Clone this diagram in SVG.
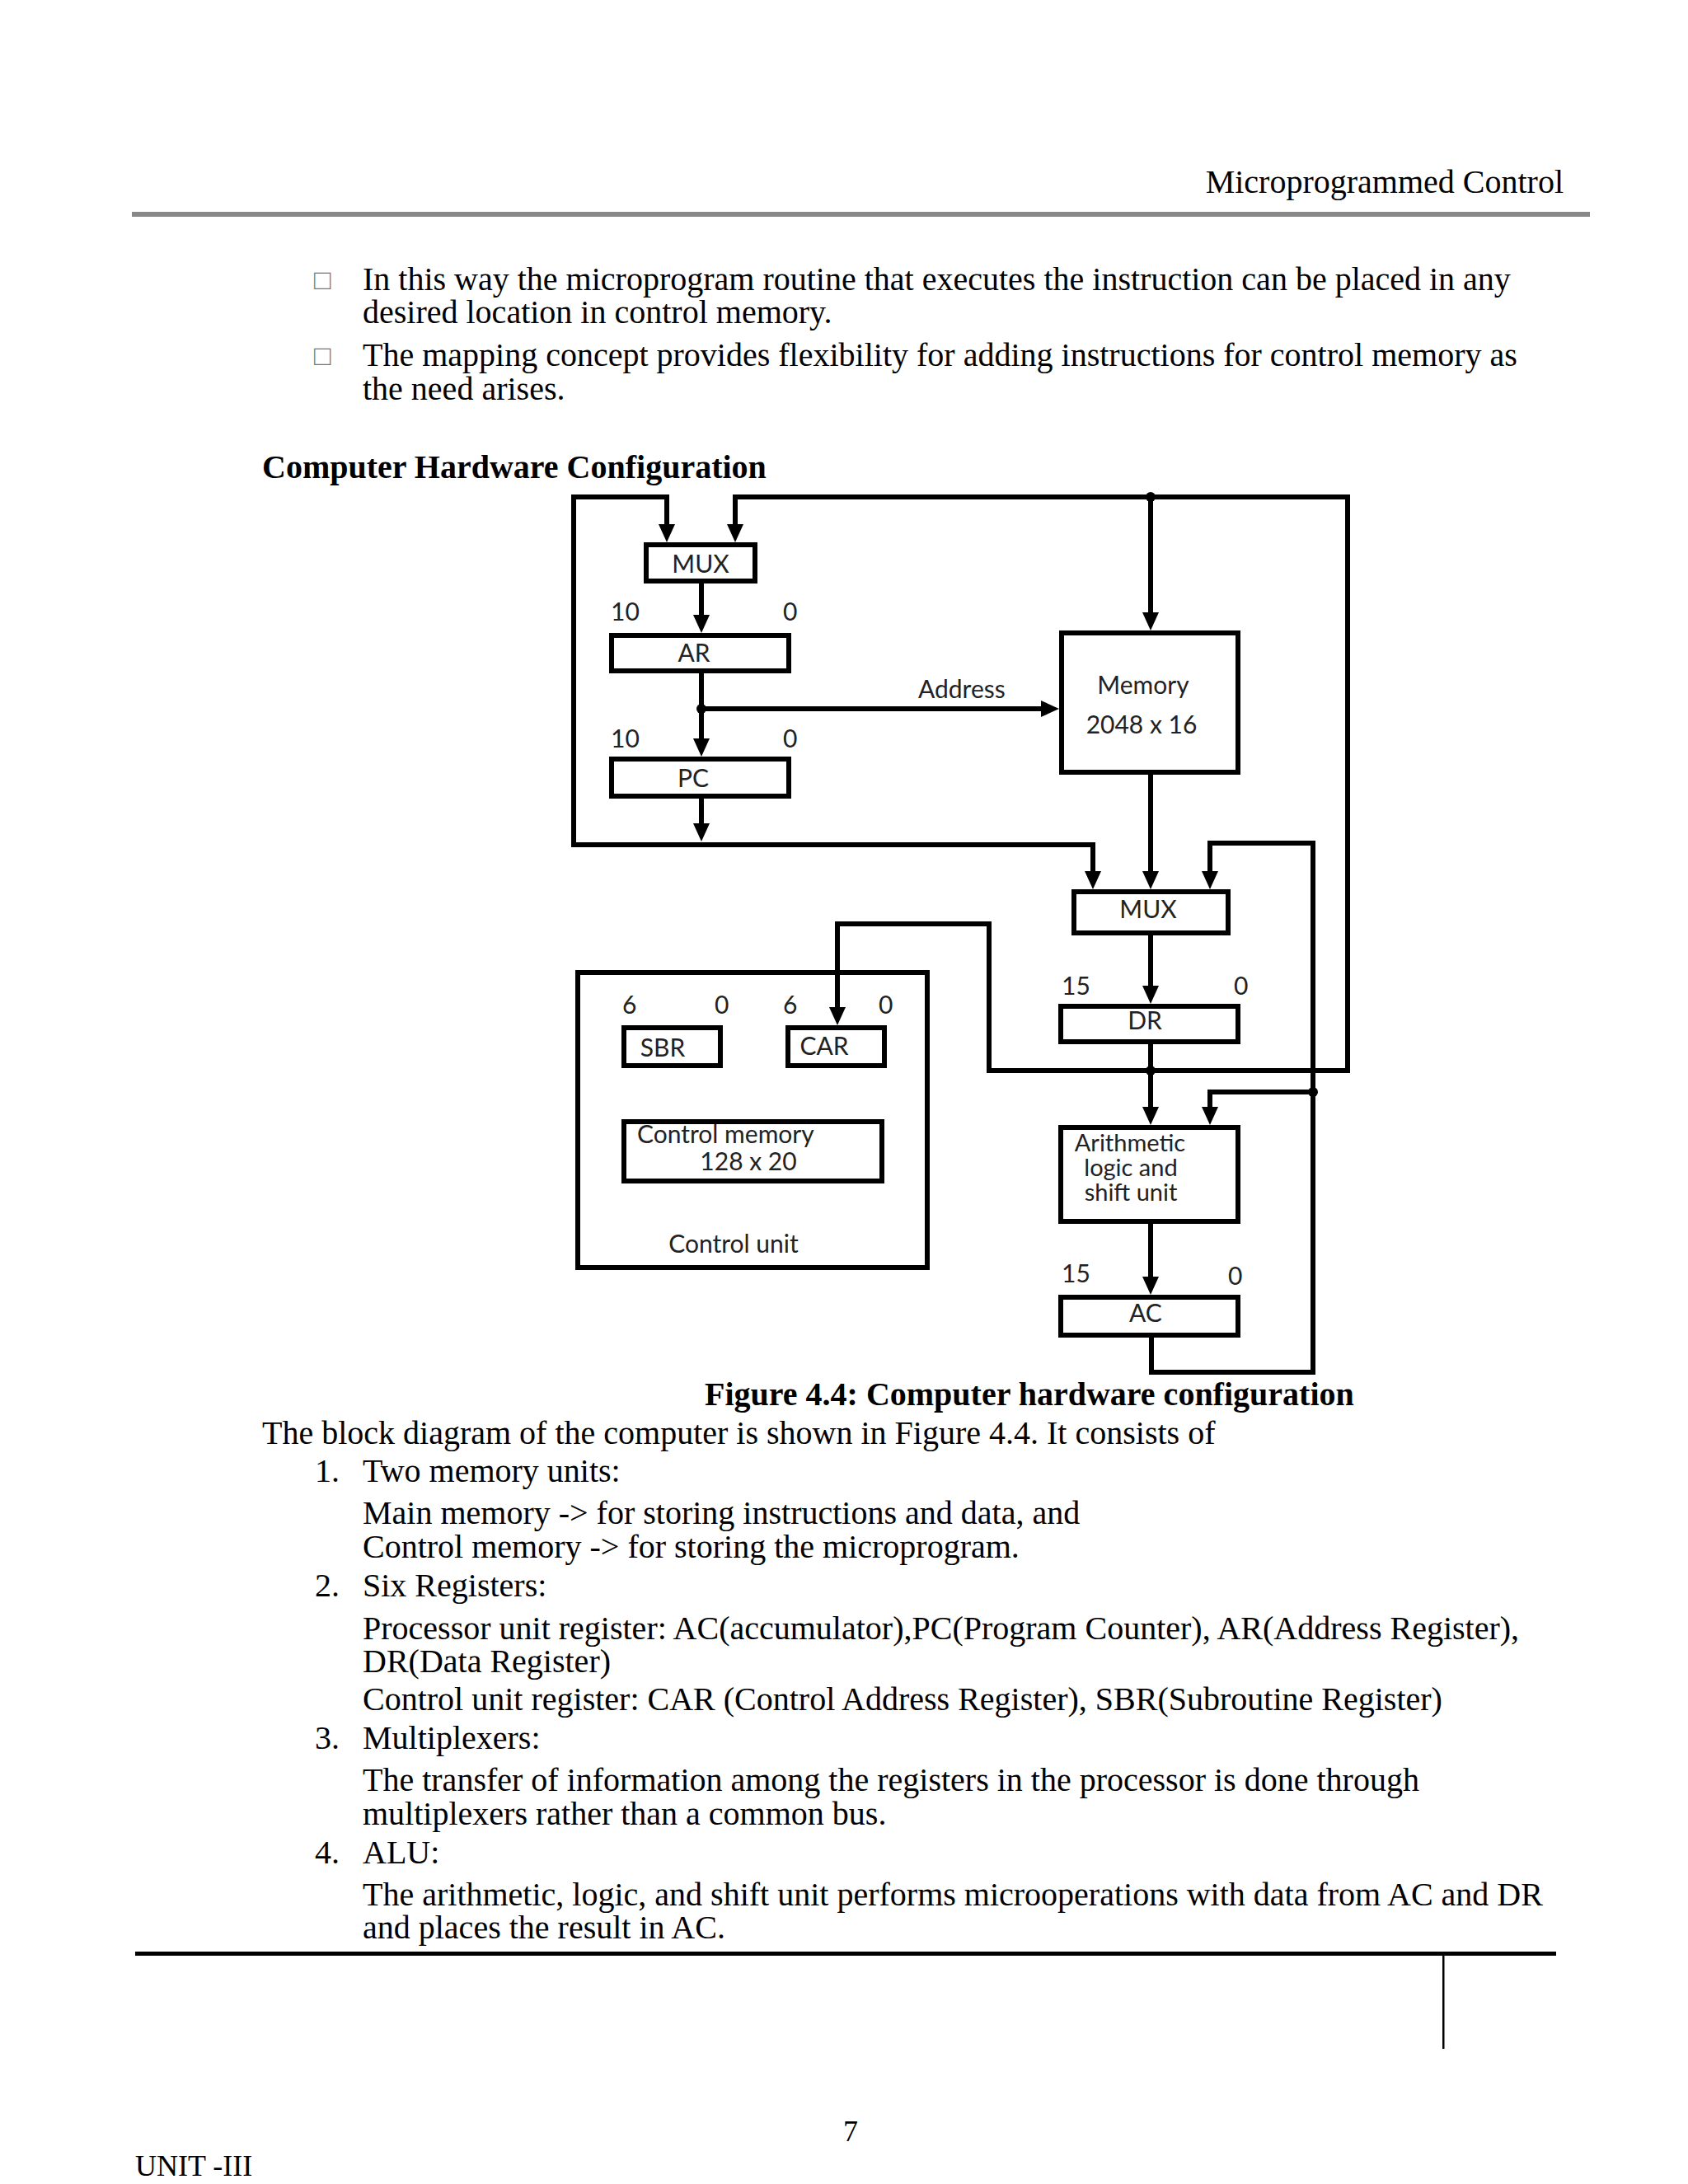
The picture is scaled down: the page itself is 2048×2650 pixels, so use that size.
<svg xmlns="http://www.w3.org/2000/svg" width="2048" height="2650" viewBox="0 0 2048 2650">
<style>
.pg{font-family:"Liberation Serif","Times New Roman",serif;font-size:40px;fill:#000}
.b{font-weight:bold}
.dg{font-family:Lato,"Open Sans",sans-serif;font-size:30px;fill:#222}
.alu{font-size:29px}
.box{fill:#fff;stroke:#000;stroke-width:6}
.ln{fill:none;stroke:#000;stroke-width:6;stroke-linejoin:miter}
.arr{marker-end:url(#ah)}
.tofu{font-family:"Liberation Sans","DejaVu Sans",sans-serif;font-size:34px;fill:#777}
</style>
<defs>
<marker id="ah" viewBox="0 0 22 20" refX="0" refY="10" markerWidth="22" markerHeight="20" orient="auto-start-reverse" markerUnits="userSpaceOnUse">
<path d="M0,0 L22,10 L0,20 z" fill="#000"/>
</marker>
</defs>
<rect width="2048" height="2650" fill="#fff"/>

<g id="page">
<text class="pg" x="1897" y="234" text-anchor="end">Microprogrammed Control</text>
<rect x="160" y="257" width="1769" height="6" fill="#888"/>
<text class="tofu" x="381" y="351">□</text>
<text class="pg" x="440" y="352">In this way the microprogram routine that executes the instruction can be placed in any</text>
<text class="pg" x="440" y="392">desired location in control memory.</text>
<text class="tofu" x="381" y="443">□</text>
<text class="pg" x="440" y="444">The mapping concept provides flexibility for adding instructions for control memory as</text>
<text class="pg" x="440" y="485">the need arises.</text>
<text class="pg b" x="318" y="580">Computer Hardware Configuration</text>
<text class="pg b" x="855" y="1705">Figure 4.4: Computer hardware configuration</text>
<text class="pg" x="318" y="1752">The block diagram of the computer is shown in Figure 4.4. It consists of</text>
<text class="pg" x="382" y="1798">1.</text>
<text class="pg" x="440" y="1798">Two memory units:</text>
<text class="pg" x="440" y="1849">Main memory -&gt; for storing instructions and data, and</text>
<text class="pg" x="440" y="1890">Control memory -&gt; for storing the microprogram.</text>
<text class="pg" x="382" y="1937">2.</text>
<text class="pg" x="440" y="1937">Six Registers:</text>
<text class="pg" x="440" y="1989">Processor unit register: AC(accumulator),PC(Program Counter), AR(Address Register),</text>
<text class="pg" x="440" y="2029">DR(Data Register)</text>
<text class="pg" x="440" y="2075">Control unit register: CAR (Control Address Register), SBR(Subroutine Register)</text>
<text class="pg" x="382" y="2122">3.</text>
<text class="pg" x="440" y="2122">Multiplexers:</text>
<text class="pg" x="440" y="2173">The transfer of information among the registers in the processor is done through</text>
<text class="pg" x="440" y="2214">multiplexers rather than a common bus.</text>
<text class="pg" x="382" y="2261">4.</text>
<text class="pg" x="440" y="2261">ALU:</text>
<text class="pg" x="440" y="2312">The arithmetic, logic, and shift unit performs microoperations with data from AC and DR</text>
<text class="pg" x="440" y="2352">and places the result in AC.</text>
<rect x="164" y="2368" width="1724" height="5" fill="#000"/>
<rect x="1750" y="2372" width="2.5" height="114" fill="#000"/>
<text class="pg" x="1023" y="2598" style="font-size:36px">7</text>
<text class="pg" x="164" y="2640" style="font-size:36px">UNIT -III</text>
</g>

<g id="mux1"><rect class="box" x="784" y="661" width="132" height="44"/><text class="dg" x="850" y="695" text-anchor="middle">MUX</text></g>
<g id="ar"><rect class="box" x="742" y="771" width="215" height="43"/><text class="dg" x="842" y="803" text-anchor="middle">AR</text>
<text class="dg" x="741" y="753">10</text><text class="dg" x="950" y="753">0</text></g>
<g id="pc"><rect class="box" x="742" y="921" width="215" height="45"/><text class="dg" x="841" y="955" text-anchor="middle">PC</text>
<text class="dg" x="741" y="907">10</text><text class="dg" x="950" y="907">0</text></g>
<g id="memory"><rect class="box" x="1288" y="768" width="214" height="169"/><text class="dg" x="1387" y="842" text-anchor="middle">Memory</text><text class="dg" x="1385" y="890" text-anchor="middle">2048 x 16</text></g>
<g id="mux2"><rect class="box" x="1303" y="1082" width="187" height="50"/><text class="dg" x="1393" y="1114" text-anchor="middle">MUX</text></g>
<g id="dr"><rect class="box" x="1287" y="1221" width="215" height="43"/><text class="dg" x="1389" y="1249" text-anchor="middle">DR</text>
<text class="dg" x="1288" y="1207">15</text><text class="dg" x="1497" y="1207">0</text></g>
<g id="alu"><rect class="box" x="1287" y="1368" width="215" height="114"/>
<text class="dg alu" x="1371" y="1397" text-anchor="middle">Arithmetic</text>
<text class="dg alu" x="1372" y="1427" text-anchor="middle">logic and</text>
<text class="dg alu" x="1372" y="1457" text-anchor="middle">shift unit</text></g>
<g id="ac"><rect class="box" x="1287" y="1574" width="215" height="46"/><text class="dg" x="1390" y="1604" text-anchor="middle">AC</text>
<text class="dg" x="1288" y="1556">15</text><text class="dg" x="1490" y="1559">0</text></g>
<g id="control-unit"><rect class="box" x="701" y="1180" width="424" height="358"/>
<text class="dg" x="890" y="1520" text-anchor="middle">Control unit</text></g>
<g id="sbr"><rect class="box" x="757" y="1247" width="117" height="46"/><text class="dg" x="804" y="1282" text-anchor="middle">SBR</text>
<text class="dg" x="755" y="1230">6</text><text class="dg" x="867" y="1230">0</text></g>
<g id="car"><rect class="box" x="956" y="1247" width="117" height="46"/><text class="dg" x="1000" y="1280" text-anchor="middle">CAR</text>
<text class="dg" x="950" y="1230">6</text><text class="dg" x="1066" y="1230">0</text></g>
<g id="control-memory"><rect class="box" x="757" y="1361" width="313" height="72"/>
<text class="dg" x="773" y="1387">Control memory</text>
<text class="dg" x="908" y="1420" text-anchor="middle">128 x 20</text></g>

<g id="connectors">
<path class="ln arr" d="M809,636 V603 H696 V1025 H1326 V1057" style="marker-start:url(#ah)"/>
<path class="ln arr" d="M892,636 V603 H1635 V1299 H1200 V1121 H1016 V1222" style="marker-start:url(#ah)"/>
<path class="ln arr" d="M1396,603 V743"/>
<path class="ln arr" d="M851,708 V746"/>
<path class="ln arr" d="M851,817 V896"/>
<path class="ln arr" d="M851,860 H1263"/>
<path class="ln arr" d="M851,969 V999"/>
<path class="ln arr" d="M1396,940 V1057"/>
<path class="ln arr" d="M1396,1135 V1196"/>
<path class="ln arr" d="M1396,1267 V1343"/>
<path class="ln arr" d="M1396,1485 V1549"/>
<path class="ln arr" d="M1397,1623 V1665 H1593 V1023 H1468 V1057"/>
<path class="ln arr" d="M1593,1325 H1468 V1343"/>
<circle cx="1396" cy="603" r="6"/>
<circle cx="851" cy="860" r="6"/>
<circle cx="1396" cy="1299" r="6"/>
<circle cx="1593" cy="1325" r="6"/>
<text class="dg" x="1114" y="847">Address</text>
</g>
</svg>
